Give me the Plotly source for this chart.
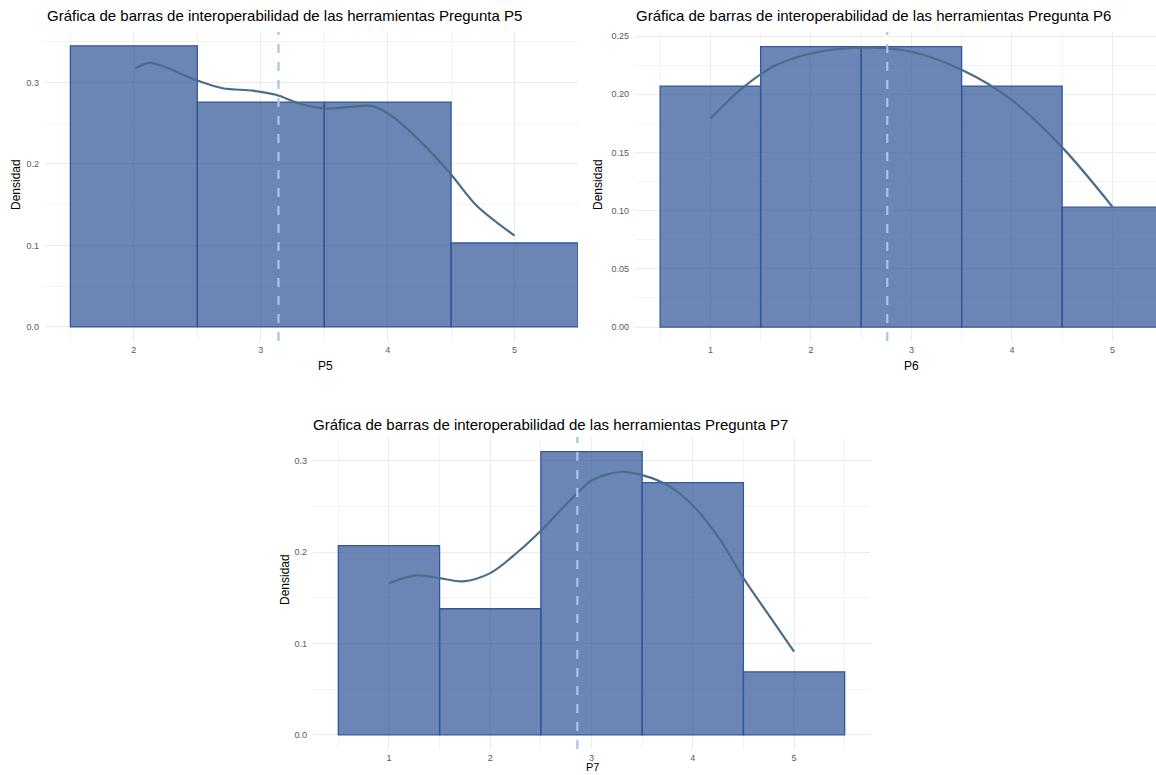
import plotly.graph_objects as go

# ---- data -------------------------------------------------------------
bins = [1, 2, 3, 4, 5]

p5_bins = [2, 3, 4, 5]
p5_density = [0.345, 0.276, 0.276, 0.103]
p5_mean = 3.14
p5_kde_x = [2.01, 2.13, 2.49, 2.70, 2.94, 3.12, 3.31, 3.52, 3.70, 3.88, 4.04, 4.25, 4.49, 4.70, 5.0]
p5_kde_y = [0.317, 0.324, 0.303, 0.293, 0.290, 0.285, 0.274, 0.268, 0.270, 0.271, 0.258, 0.229, 0.189, 0.149, 0.112]

p6_bins = [1, 2, 3, 4, 5]
p6_density = [0.207, 0.241, 0.241, 0.207, 0.103]
p6_mean = 2.76
p6_kde_x = [1.0, 1.30, 1.63, 2.0, 2.29, 2.62, 3.0, 3.5, 4.0, 4.51, 5.0]
p6_kde_y = [0.179, 0.204, 0.224, 0.235, 0.239, 0.240, 0.2365, 0.221, 0.195, 0.1535, 0.1034]

p7_bins = [1, 2, 3, 4, 5]
p7_density = [0.207, 0.138, 0.310, 0.276, 0.069]
p7_mean = 2.86
p7_kde_x = [1.0, 1.27, 1.5, 1.73, 2.0, 2.26, 2.51, 2.79, 3.01, 3.28, 3.51, 3.77, 4.01, 4.27, 4.51, 4.76, 5.0]
p7_kde_y = [0.166, 0.1745, 0.1716, 0.168, 0.177, 0.199, 0.2245, 0.257, 0.279, 0.2877, 0.284, 0.272, 0.250, 0.2136, 0.1698, 0.1296, 0.0912]

titles = [
    "Gráfica de barras de interoperabilidad de las herramientas Pregunta P5",
    "Gráfica de barras de interoperabilidad de las herramientas Pregunta P6",
    "Gráfica de barras de interoperabilidad de las herramientas Pregunta P7",
]
x_titles = ["P5", "P6", "P7"]
y_title = "Densidad"

# ---- styling ----------------------------------------------------------
W, H = 1156, 775
FONT = "Liberation Sans, Arial, sans-serif"
BAR_FILL = "rgba(44,82,150,0.70)"
BAR_LINE = "rgb(52,86,156)"
KDE_COLOR = "rgb(72,110,140)"
MEAN_COLOR = "rgb(170,196,232)"
GRID = "#ebebeb"
GRID_MINOR = "#f3f3f3"
TICK_FONT = dict(family=FONT, size=9, color="#5a5a5a")

# panel boxes in pixels: (left, right, top, bottom)
boxes = [(45, 578, 32, 341), (635, 1156, 32, 341), (313, 870, 437, 749)]
x_ranges = [[1.3, 5.5], [0.25, 5.434], [0.25, 5.75]]
y_ranges = [[-0.01725, 0.362], [-0.012, 0.2535], [-0.0155, 0.326]]
y_dticks = [0.1, 0.05, 0.1]
y_formats = [".1f", ".2f", ".1f"]

panels = [
    (p5_bins, p5_density, p5_mean, p5_kde_x, p5_kde_y),
    (p6_bins, p6_density, p6_mean, p6_kde_x, p6_kde_y),
    (p7_bins, p7_density, p7_mean, p7_kde_x, p7_kde_y),
]

fig = go.Figure()
layout = dict(
    width=W, height=H,
    margin=dict(l=0, r=0, t=0, b=0),
    paper_bgcolor="white", plot_bgcolor="white",
    showlegend=False,
    font=dict(family=FONT),
    annotations=[], shapes=[],
)

for i, (bx, dens, mean, kx, ky) in enumerate(panels):
    sfx = "" if i == 0 else str(i + 1)
    xa, ya = "x" + sfx, "y" + sfx
    left, right, top, bottom = boxes[i]

    fig.add_trace(go.Bar(
        x=bx, y=dens, width=1, xaxis=xa, yaxis=ya,
        marker=dict(color=BAR_FILL, line=dict(color=BAR_LINE, width=1.3)),
        hoverinfo="skip",
    ))
    fig.add_trace(go.Scatter(
        x=kx, y=ky, mode="lines", xaxis=xa, yaxis=ya,
        line=dict(color=KDE_COLOR, width=2.2, shape="spline", smoothing=0.9),
        hoverinfo="skip",
    ))
    layout["shapes"].append(dict(
        type="line", xref=xa, yref=ya + " domain",
        x0=mean, x1=mean, y0=0, y1=1,
        line=dict(color=MEAN_COLOR, width=2.2, dash="dash"),
    ))

    layout["xaxis" + sfx] = dict(
        domain=[left / W, right / W], anchor=ya, range=x_ranges[i],
        tickmode="array", tickvals=bins, ticktext=[str(b) for b in bins],
        showgrid=True, gridcolor=GRID, gridwidth=1,
        minor=dict(dtick=0.5, tick0=0.5, showgrid=True, gridcolor=GRID_MINOR, gridwidth=1),
        zeroline=False, showline=False, ticks="",
        tickfont=TICK_FONT, ticklabelstandoff=2,
    )
    layout["yaxis" + sfx] = dict(
        domain=[1 - bottom / H, 1 - top / H], anchor=xa, range=y_ranges[i],
        tick0=0, dtick=y_dticks[i], tickformat=y_formats[i],
        showgrid=True, gridcolor=GRID, gridwidth=1,
        minor=dict(dtick=y_dticks[i] / 2, showgrid=True, gridcolor=GRID_MINOR, gridwidth=1),
        zeroline=False, showline=False, ticks="",
        tickfont=TICK_FONT, ticklabelstandoff=5,
    )

# titles and axis labels
title_pos = [(45, 16), (634, 16), (311, 424)]
xlab_pos = [(325, 366), (911, 366), (592, 767)]
ylab_pos = [(16, 185), (598, 185), (285, 580)]
xlab_sizes = [12, 12, 11]
for i in range(3):
    tx, ty = title_pos[i]
    layout["annotations"].append(dict(
        text=titles[i], xref="paper", yref="paper", x=tx / W, y=1 - ty / H,
        xanchor="left", yanchor="middle", showarrow=False,
        font=dict(family=FONT, size=15, color="black"),
    ))
    lx, ly = xlab_pos[i]
    layout["annotations"].append(dict(
        text=x_titles[i], xref="paper", yref="paper", x=lx / W, y=1 - ly / H,
        xanchor="center", yanchor="middle", showarrow=False,
        font=dict(family=FONT, size=xlab_sizes[i], color="black"),
    ))
    yx, yy = ylab_pos[i]
    layout["annotations"].append(dict(
        text=y_title, xref="paper", yref="paper", x=yx / W, y=1 - yy / H,
        xanchor="center", yanchor="middle", showarrow=False, textangle=-90,
        font=dict(family=FONT, size=12, color="black"),
    ))

fig.update_layout(**layout)
fig.write_html("out.html")
